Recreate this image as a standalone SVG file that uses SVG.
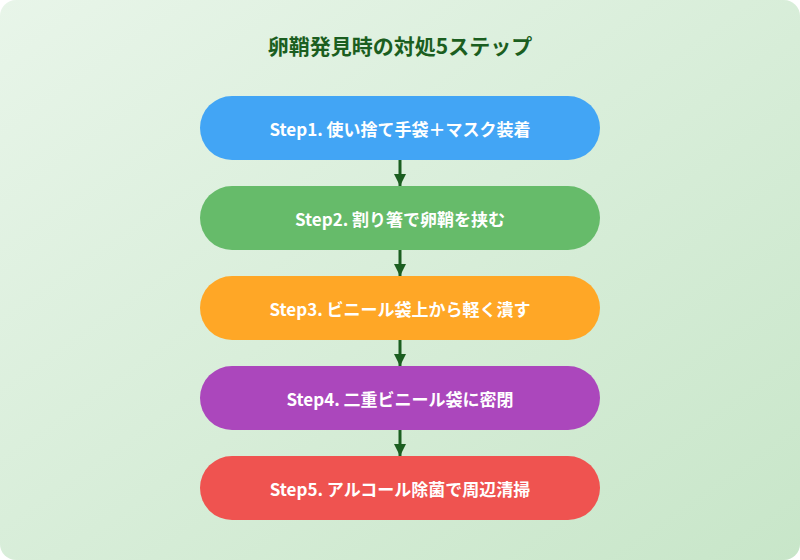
<svg xmlns="http://www.w3.org/2000/svg" width="800" height="560" viewBox="0 0 800 560">
<defs>
<linearGradient id="bg" x1="0" y1="0" x2="1" y2="1"><stop offset="0" stop-color="#e8f5e9"/><stop offset="1" stop-color="#c8e6c9"/></linearGradient>
<marker id="ah" viewBox="0 0 10 10" refX="10" refY="5" markerWidth="4" markerHeight="4" orient="auto" markerUnits="strokeWidth"><path d="M0,0 L10,5 L0,10 z" fill="#1b5e20"/></marker>
<style>
.t{font-family:"Noto Sans CJK JP","Noto Sans",sans-serif;font-weight:bold;fill:#fff;font-size:17px;text-anchor:middle;dominant-baseline:central}
.c{stroke:#1b5e20;stroke-width:3;fill:none;marker-end:url(#ah)}
</style>
</defs>
<rect width="800" height="560" rx="16" fill="url(#bg)"/>
<text x="400" y="45" style="font-family:'Noto Sans CJK JP',sans-serif;font-weight:bold;font-size:21px;fill:#1b5e20;text-anchor:middle;dominant-baseline:central">卵鞘発見時の対処5ステップ</text>
<g id="connectors">
<path class="c" d="M400,160 V186"/>
<path class="c" d="M400,250 V276"/>
<path class="c" d="M400,340 V366"/>
<path class="c" d="M400,430 V456"/>
</g>
<g id="s1"><rect x="200" y="96" width="400" height="64" rx="32" fill="#42a5f5"/><text class="t" x="400" y="128">Step1. 使い捨て手袋＋マスク装着</text></g>
<g id="s2"><rect x="200" y="186" width="400" height="64" rx="32" fill="#66bb6a"/><text class="t" x="400" y="218">Step2. 割り箸で卵鞘を挟む</text></g>
<g id="s3"><rect x="200" y="276" width="400" height="64" rx="32" fill="#ffa726"/><text class="t" x="400" y="308">Step3. ビニール袋上から軽く潰す</text></g>
<g id="s4"><rect x="200" y="366" width="400" height="64" rx="32" fill="#ab47bc"/><text class="t" x="400" y="398">Step4. 二重ビニール袋に密閉</text></g>
<g id="s5"><rect x="200" y="456" width="400" height="64" rx="32" fill="#ef5350"/><text class="t" x="400" y="488">Step5. アルコール除菌で周辺清掃</text></g>
</svg>
